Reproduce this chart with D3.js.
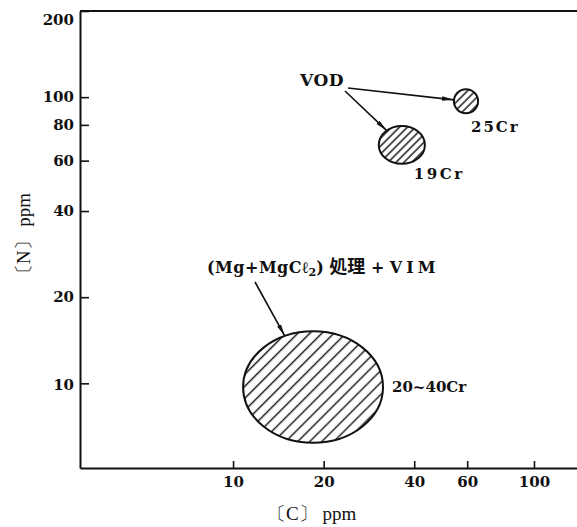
<!DOCTYPE html>
<html>
<head>
<meta charset="utf-8">
<script src="https://cdn.jsdelivr.net/npm/d3@7"></script>
<style>
  html, body { margin: 0; padding: 0; background: #fff; }
  svg { display: block; }
  text { font-family: "DejaVu Serif", "Liberation Serif", serif; font-weight: bold; fill: #111; }
  .cjk { font-family: "Noto Sans CJK JP", "Noto Sans CJK SC", sans-serif; font-weight: bold; }
</style>
</head>
<body>
<script>
// ---- data ----
const regionNames = ["25Cr", "19Cr", "20~40Cr"];
const cMin = [54.2, 30.5, 10.8];   // [C] ppm, left edge of region
const cMax = [65.2, 43.4, 31.5];   // [C] ppm, right edge
const nMin = [87.9, 58.5, 6.2];    // [N] ppm, bottom edge
const nMax = [106.6, 79.3, 15.2];  // [N] ppm, top edge
const xTicks = [10, 20, 40, 60, 100];
const yTicks = [10, 20, 40, 60, 80, 100, 200];
const xDomain = [3.1, 139];
const yDomain = [5.06, 200];

const W = 577, H = 527;
const svg = d3.select("body").append("svg").attr("width", W).attr("height", H);

const x = d3.scaleLog().domain(xDomain).range([80, 577]);
const y = d3.scaleLog().domain(yDomain).range([468, 11]);

// hatch patterns
const defs = svg.append("defs");
function hatch(id, gap) {
  const p = defs.append("pattern").attr("id", id)
    .attr("patternUnits", "userSpaceOnUse")
    .attr("width", 40).attr("height", gap)
    .attr("patternTransform", "rotate(-45)");
  p.append("line").attr("x1", 0).attr("x2", 40).attr("y1", gap / 2).attr("y2", gap / 2)
    .attr("stroke", "#111").attr("stroke-width", 1.4);
}
hatch("hatchBig", 8.5);
hatch("hatchSmall", 5.6);
defs.append("marker").attr("id", "arrow")
  .attr("viewBox", "0 0 12 6").attr("refX", 12).attr("refY", 3)
  .attr("markerWidth", 12).attr("markerHeight", 6)
  .attr("markerUnits", "userSpaceOnUse").attr("orient", "auto")
  .append("path").attr("d", "M0,0.8 L12,3 L0,5.2 Z").attr("fill", "#111");

// axes
const gy = svg.append("g").attr("transform", `translate(${x.range()[0]},0)`)
  .call(d3.axisLeft(y).tickValues(yTicks).tickFormat(d3.format("d"))
    .tickSizeInner(-9).tickSizeOuter(0).tickPadding(6));
const gx = svg.append("g").attr("transform", `translate(0,${y.range()[0]})`)
  .call(d3.axisBottom(x).tickValues(xTicks).tickFormat(d3.format("d"))
    .tickSizeInner(-7).tickSizeOuter(0).tickPadding(8));
[gy, gx].forEach(g => {
  g.select(".domain").attr("stroke", "#111").attr("stroke-width", 2);
  g.selectAll(".tick line").attr("stroke", "#111").attr("stroke-width", 1.6);
  g.selectAll(".tick text").style("font-family", "'DejaVu Serif', serif")
    .style("font-weight", "bold").style("font-size", "15px")
    .attr("fill", "#111");
});
gy.selectAll(".tick").filter(d => d === 200).select("text").attr("dy", "0.9em");
gy.selectAll(".tick").filter(d => d === 10).select("text").attr("dy", "0.42em");
// top frame line
svg.append("line").attr("x1", x.range()[0]).attr("x2", x.range()[1])
  .attr("y1", y(yDomain[1])).attr("y2", y(yDomain[1]))
  .attr("stroke", "#111").attr("stroke-width", 2);

// axis titles
svg.append("text").attr("x", 267).attr("y", 520)
  .style("font-family", "'Liberation Serif', serif").style("font-size", "19px")
  .style("font-weight", "normal").text("〔C〕 ppm");
svg.append("text").attr("transform", "translate(30,238) rotate(-90)")
  .attr("text-anchor", "middle")
  .style("font-family", "'Liberation Serif', serif").style("font-size", "19px")
  .style("font-weight", "normal").text("〔N〕 ppm");

// regions
const regions = regionNames.map((name, i) => {
  const x0 = x(cMin[i]), x1 = x(cMax[i]), y0 = y(nMax[i]), y1 = y(nMin[i]);
  return { name, cx: (x0 + x1) / 2, cy: (y0 + y1) / 2, rx: (x1 - x0) / 2, ry: (y1 - y0) / 2 };
});
svg.selectAll("ellipse.region").data(regions).join("ellipse")
  .attr("class", "region")
  .attr("cx", d => d.cx).attr("cy", d => d.cy).attr("rx", d => d.rx).attr("ry", d => d.ry)
  .attr("fill", (d, i) => i === 2 ? "url(#hatchBig)" : "url(#hatchSmall)")
  .attr("stroke", "#111").attr("stroke-width", 2);

// region labels
const r25 = regions[0], r19 = regions[1], rBig = regions[2];
svg.append("text").attr("x", r25.cx + 5).attr("y", r25.cy + r25.ry + 19)
  .style("font-size", "15px").style("letter-spacing", "2px").text(regionNames[0]);
svg.append("text").attr("x", r19.cx + 12).attr("y", r19.cy + r19.ry + 15)
  .style("font-size", "15px").style("letter-spacing", "2.5px").text(regionNames[1]);
svg.append("text").attr("x", rBig.cx + rBig.rx + 9).attr("y", rBig.cy + 5)
  .style("font-size", "15px").text(regionNames[2]);

// leader arrows
function edgePoint(r, sx, sy) {
  const dx = sx - r.cx, dy = sy - r.cy;
  const t = 1 / Math.sqrt((dx / r.rx) ** 2 + (dy / r.ry) ** 2);
  return [r.cx + dx * t, r.cy + dy * t];
}
function arrow(sx, sy, r) {
  const [ex, ey] = edgePoint(r, sx, sy);
  svg.append("line").attr("x1", sx).attr("y1", sy).attr("x2", ex).attr("y2", ey)
    .attr("stroke", "#111").attr("stroke-width", 1.6).attr("marker-end", "url(#arrow)");
}
svg.append("text").attr("x", 300).attr("y", 86).style("font-size", "17px")
  .style("letter-spacing", "0.5px").text("VOD");
arrow(348, 88, r25);
arrow(345, 91, r19);

const mg = svg.append("text").attr("x", 207).attr("y", 273).style("font-size", "16px");
mg.append("tspan").style("letter-spacing", "0.5px").text("(Mg+MgCℓ");
mg.append("tspan").attr("dy", 3).style("font-size", "11px").text("2");
mg.append("tspan").attr("dy", -3).text(") ");
mg.append("tspan").attr("class", "cjk").style("font-size", "18px").text("処理");
mg.append("tspan").text(" + ");
mg.append("tspan").style("letter-spacing", "4px").text("VIM");
arrow(255, 282, rBig);
</script>
</body>
</html>
